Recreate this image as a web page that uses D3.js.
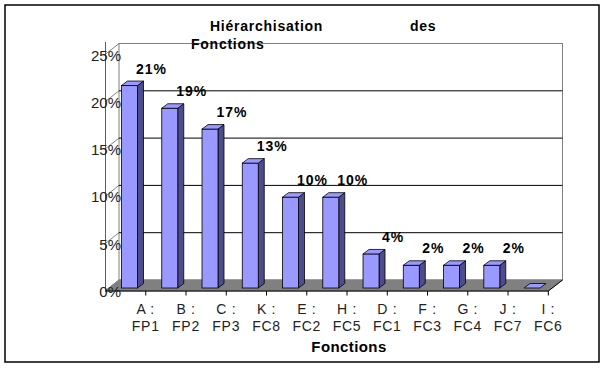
<!DOCTYPE html>
<html>
<head>
<meta charset="utf-8">
<script src="https://cdn.jsdelivr.net/npm/d3@7"></script>
<style>
  body { margin: 0; background: #fff; }
  text { font-family: "Liberation Sans", Arial, sans-serif; }
</style>
</head>
<body>
<svg width="606" height="375"></svg>
<script>
// data
const categories = ["A : FP1", "B : FP2", "C : FP3", "K : FC8", "E : FC2", "H : FC5",
                    "D : FC1", "F : FC3", "G : FC4", "J : FC7", "I : FC6"];
const values = [0.214, 0.19, 0.168, 0.132, 0.096, 0.096, 0.036, 0.024, 0.024, 0.024, 0];
const yTicks = [0, 0.05, 0.10, 0.15, 0.20, 0.25];

const svg = d3.select("svg");
const fmt = d3.format(".0%");

// 3D-ish layout: front plane, bar plane, back wall
const x = d3.scaleBand().domain(categories).range([105.5, 548.3]);
const yFront = d3.scaleLinear().domain([0, 0.25]).range([291, 54.5]);
const yBar = d3.scaleLinear().domain([0, 0.25]).range([288, 51.5]);
const yBack = d3.scaleLinear().domain([0, 0.25]).range([280, 43.5]);
const depthX = 14;
const wallL = 119, wallR = 562.5;

// outer frame
svg.append("rect")
  .attr("x", 5).attr("y", 5).attr("width", 594).attr("height", 357)
  .attr("fill", "white").attr("stroke", "black").attr("stroke-width", 1.5);

// back wall
svg.append("rect")
  .attr("x", wallL).attr("y", yBack(0.25))
  .attr("width", wallR - wallL).attr("height", yBack(0) - yBack(0.25))
  .attr("fill", "white").attr("stroke", "#808080");

// gridlines on back wall
svg.selectAll(".grid")
  .data(yTicks.filter(d => d > 0 && d < 0.25))
  .enter().append("line")
  .attr("x1", wallL).attr("x2", wallR)
  .attr("y1", d => yBack(d)).attr("y2", d => yBack(d))
  .attr("stroke", "black");

// side wall: diagonals from front axis to back wall
svg.selectAll(".diag")
  .data(yTicks)
  .enter().append("line")
  .attr("x1", 105).attr("y1", d => yFront(d))
  .attr("x2", wallL).attr("y2", d => yBack(d))
  .attr("stroke", "#333").attr("stroke-width", 0.6);

svg.append("line")
  .attr("x1", 105.5).attr("x2", 105.5).attr("y1", 42).attr("y2", yFront(0))
  .attr("stroke", "#333").attr("stroke-width", 0.8);

// floor
const floorPts = [[105, yFront(0)], [548.3, yFront(0)], [wallR, yBack(0)], [wallL, yBack(0)]];
svg.append("polygon")
  .attr("points", floorPts.map(p => p.join(",")).join(" "))
  .attr("fill", "#808080").attr("stroke", "#808080");

svg.append("line")
  .attr("x1", 105).attr("x2", 548.3).attr("y1", yFront(0)).attr("y2", yFront(0))
  .attr("stroke", "black");
svg.append("line")
  .attr("x1", 548.3).attr("y1", yFront(0)).attr("x2", wallR).attr("y2", yBack(0))
  .attr("stroke", "black");

// category ticks
svg.selectAll(".tick")
  .data(categories)
  .enter().append("line")
  .attr("x1", d => x(d) + x.step()).attr("x2", d => x(d) + x.step())
  .attr("y1", yFront(0)).attr("y2", yFront(0) + 4.5)
  .attr("stroke", "black");

// bars
const faceW = 16, faceOff = 16, bdx = 6, bdy = 4.5;
const bars = svg.selectAll(".bar")
  .data(categories.map((c, i) => ({ c, v: values[i] })))
  .enter().append("g");

bars.each(function (d) {
  const g = d3.select(this);
  const x0 = x(d.c) + faceOff, x1 = x0 + faceW;
  const yt = yBar(d.v), yb = yBar(0);
  const poly = pts => pts.map(p => p.join(",")).join(" ");
  if (d.v > 0) {
    g.append("polygon")
      .attr("points", poly([[x1, yt], [x1 + bdx, yt - bdy], [x1 + bdx, yb - bdy], [x1, yb]]))
      .attr("fill", "#4d4d8c").attr("stroke", "black").attr("stroke-width", 0.8);
    g.append("rect")
      .attr("x", x0).attr("y", yt).attr("width", faceW).attr("height", yb - yt)
      .attr("fill", "#9999ff").attr("stroke", "black").attr("stroke-width", 0.8);
  }
  g.append("polygon")
    .attr("points", poly([[x0, yt], [x1, yt], [x1 + bdx, yt - bdy], [x0 + bdx, yt - bdy]]))
    .attr("fill", "#9999ff").attr("stroke", "black").attr("stroke-width", 0.8);
});

// value labels
svg.selectAll(".vlab")
  .data(categories.map((c, i) => ({ c, v: values[i] })).filter(d => d.v > 0))
  .enter().append("text")
  .attr("x", d => x(d.c) + faceOff + faceW / 2 + 22)
  .attr("y", d => yBar(d.v) - 12)
  .attr("text-anchor", "middle")
  .attr("font-size", 14).attr("font-weight", "bold")
  .attr("letter-spacing", 1)
  .text(d => fmt(d.v));

// y tick labels
svg.selectAll(".ylab")
  .data(yTicks)
  .enter().append("text")
  .attr("x", 121).attr("y", d => yFront(d) + 6)
  .attr("text-anchor", "end")
  .attr("font-size", 15).attr("fill", "#222")
  .text(d => fmt(d));

// category labels (two lines)
const clab = svg.selectAll(".clab")
  .data(categories)
  .enter().append("text")
  .attr("text-anchor", "middle")
  .attr("font-size", 14).attr("fill", "#222")
  .attr("letter-spacing", 0.7);
clab.append("tspan")
  .attr("x", d => x(d) + x.step()).attr("y", 314)
  .text(d => d.split(" ").slice(0, 2).join(" "));
clab.append("tspan")
  .attr("x", d => x(d) + x.step()).attr("y", 330.5)
  .text(d => d.split(" ")[2]);

// title
const title = [["Hiérarchisation", 210, 31], ["des", 410, 31], ["Fonctions", 191, 49]];
svg.selectAll(".title")
  .data(title)
  .enter().append("text")
  .attr("x", d => d[1]).attr("y", d => d[2])
  .attr("font-size", 14).attr("font-weight", "bold")
  .attr("letter-spacing", 0.75)
  .text(d => d[0]);

// axis title
svg.append("text")
  .attr("x", 349).attr("y", 352)
  .attr("text-anchor", "middle")
  .attr("font-size", 15).attr("font-weight", "bold")
  .attr("letter-spacing", 0.4)
  .text("Fonctions");
</script>
</body>
</html>
